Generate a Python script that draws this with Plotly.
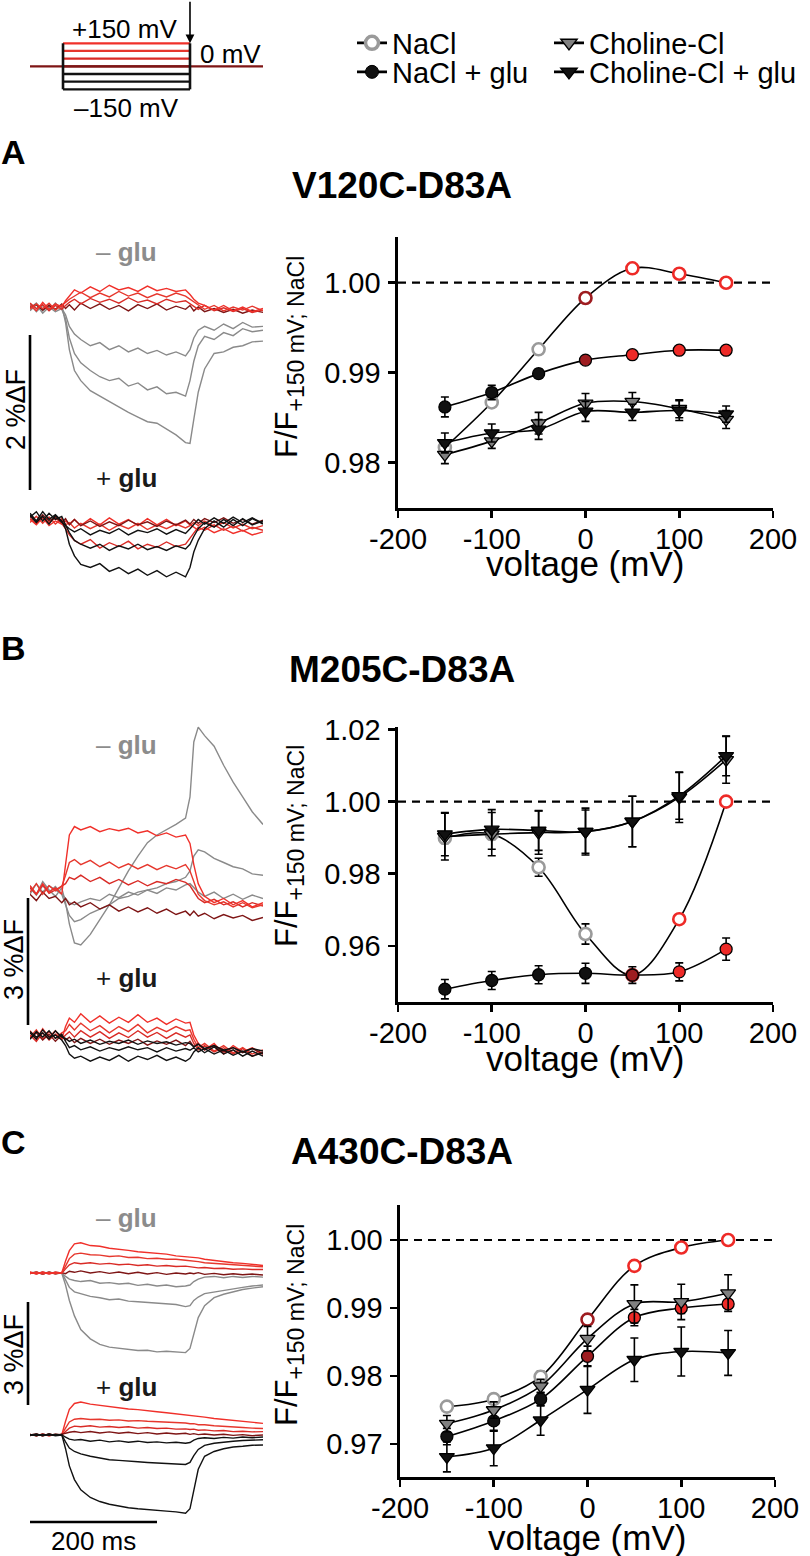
import plotly.graph_objects as go

W, H = 810, 1556


def fx(px):
    return px / W


def fy(py):
    return 1 - py / H


FONT = "Arial, 'Liberation Sans', sans-serif"

# ---------------- protocol ----------------
TIME_MS = [0, 10, 20, 30, 40, 50, 56, 62, 70, 80, 95, 110, 125, 140, 155, 170, 185, 200, 215, 230, 245,
           252, 258, 265, 275, 290, 305, 320, 335, 350, 367]
PULSE_MS = [52, 252]
STEP_MV = [150, 100, 50, 0, -50, -100, -150]

# ---------------- fluorescence traces (%dF) ----------------
A_NO_GLU_P150 = [0.02, -0.05, 0.06, -0.03, 0.04, 0.0, 0.08, 0.14, 0.22, 0.18, 0.26, 0.2, 0.28, 0.22, 0.25, 0.2, 0.27, 0.21, 0.24, 0.2, 0.22, 0.16, 0.1, 0.05, 0.02, -0.04, 0.02, -0.05, 0.0, -0.06, -0.02]
A_NO_GLU_P100 = [-0.03, 0.04, -0.02, 0.05, -0.04, 0.03, 0.06, 0.1, 0.14, 0.19, 0.12, 0.18, 0.13, 0.2, 0.14, 0.18, 0.12, 0.17, 0.13, 0.18, 0.14, 0.1, 0.06, 0.02, -0.03, 0.02, -0.05, 0.0, -0.04, 0.01, -0.05]
A_NO_GLU_P50 = [0.05, -0.02, 0.03, -0.05, 0.02, -0.03, 0.02, 0.06, 0.1, 0.04, 0.11, 0.06, 0.1, 0.05, 0.12, 0.06, 0.09, 0.04, 0.1, 0.06, 0.08, 0.04, 0.0, -0.03, 0.02, -0.05, -0.01, -0.06, -0.02, -0.07, -0.04]
A_NO_GLU_0 = [0.0, 0.03, -0.04, 0.02, -0.03, 0.04, -0.02, 0.03, -0.04, 0.05, -0.02, 0.04, -0.03, 0.02, -0.05, 0.03, -0.02, 0.04, -0.04, 0.01, -0.03, 0.02, -0.05, 0.0, -0.06, -0.02, -0.07, -0.03, -0.08, -0.04, -0.07]
A_NO_GLU_M50 = [-0.05, 0.03, -0.08, 0.0, -0.06, -0.02, -0.1, -0.25, -0.35, -0.42, -0.5, -0.46, -0.55, -0.5, -0.58, -0.53, -0.6, -0.56, -0.62, -0.58, -0.63, -0.55, -0.4, -0.3, -0.25, -0.3, -0.22, -0.28, -0.2, -0.26, -0.25]
A_NO_GLU_M100 = [0.04, -0.06, 0.02, -0.04, 0.05, -0.03, -0.15, -0.4, -0.6, -0.72, -0.82, -0.9, -0.95, -0.92, -1.02, -0.98, -1.07, -1.03, -1.12, -1.1, -1.15, -0.95, -0.7, -0.5, -0.38, -0.42, -0.33, -0.37, -0.28, -0.32, -0.3]
A_NO_GLU_M150 = [-0.02, 0.05, -0.05, 0.03, -0.03, 0.02, -0.2, -0.55, -0.82, -0.95, -1.08, -1.15, -1.22, -1.3, -1.36, -1.42, -1.48, -1.5, -1.58, -1.65, -1.75, -1.76, -1.45, -1.1, -0.8, -0.6, -0.58, -0.52, -0.5, -0.45, -0.44]

A_GLU_P150 = [0.02, -0.05, 0.04, -0.06, 0.0, -0.04, 0.0, -0.04, 0.02, -0.06, 0.03, -0.05, 0.04, -0.04, 0.02, -0.06, 0.03, -0.05, 0.02, -0.06, 0.0, -0.05, -0.08, -0.12, -0.08, -0.15, -0.1, -0.16, -0.12, -0.18, -0.14]
A_GLU_P100 = [-0.02, 0.06, -0.03, 0.05, -0.04, 0.03, -0.05, -0.02, -0.09, -0.03, -0.1, -0.04, -0.12, -0.05, -0.1, -0.03, -0.11, -0.05, -0.1, -0.04, -0.09, -0.06, -0.02, -0.06, 0.0, -0.07, -0.02, -0.09, -0.04, -0.1, -0.06]
A_GLU_P50 = [0.03, -0.04, 0.05, -0.02, 0.04, -0.03, -0.1, -0.18, -0.25, -0.3, -0.24, -0.35, -0.28, -0.33, -0.26, -0.36, -0.3, -0.34, -0.27, -0.33, -0.3, -0.22, -0.15, -0.08, -0.12, -0.05, -0.12, -0.06, -0.13, -0.08, -0.12]
A_GLU_0 = [0.06, -0.02, 0.08, 0.0, 0.05, -0.02, 0.03, -0.05, 0.02, -0.06, 0.0, -0.07, -0.01, -0.06, 0.01, -0.05, -0.01, -0.07, 0.0, -0.05, 0.01, -0.04, 0.02, -0.03, 0.03, -0.02, 0.04, -0.03, 0.02, -0.04, 0.01]
A_GLU_M50 = [0.08, -0.02, 0.06, -0.04, 0.07, -0.02, -0.06, -0.1, -0.14, -0.1, -0.18, -0.12, -0.16, -0.1, -0.18, -0.12, -0.15, -0.1, -0.17, -0.11, -0.16, -0.1, -0.05, 0.02, -0.04, 0.04, -0.03, 0.05, -0.02, 0.04, -0.03]
A_GLU_M100 = [0.05, 0.12, 0.0, 0.1, 0.02, 0.06, -0.05, -0.15, -0.25, -0.3, -0.35, -0.3, -0.38, -0.32, -0.36, -0.3, -0.37, -0.33, -0.38, -0.32, -0.36, -0.3, -0.2, -0.1, -0.02, -0.08, 0.02, -0.06, 0.03, -0.05, 0.0]
A_GLU_M150 = [0.1, 0.0, 0.12, 0.02, 0.08, 0.0, -0.1, -0.3, -0.45, -0.56, -0.6, -0.55, -0.65, -0.6, -0.68, -0.62, -0.7, -0.64, -0.72, -0.66, -0.72, -0.6, -0.4, -0.25, -0.1, 0.0, -0.08, 0.02, -0.06, 0.03, -0.04]

B_NO_GLU_P150 = [0.1, -0.1, 0.15, -0.05, 0.05, -0.1, 0.6, 1.3, 1.5, 1.42, 1.5, 1.38, 1.45, 1.4, 1.46, 1.35, 1.4, 1.28, 1.35, 1.25, 1.3, 1.1, 0.6, 0.15, -0.15, -0.3, -0.2, -0.35, -0.25, -0.4, -0.3]
B_NO_GLU_P100 = [-0.05, 0.15, -0.1, 0.1, -0.02, 0.08, 0.35, 0.65, 0.72, 0.6, 0.7, 0.55, 0.66, 0.52, 0.62, 0.5, 0.6, 0.48, 0.58, 0.5, 0.6, 0.45, 0.2, -0.1, -0.25, -0.35, -0.28, -0.4, -0.3, -0.42, -0.35]
B_NO_GLU_P50 = [0.05, -0.1, 0.12, -0.08, 0.0, 0.1, 0.15, 0.3, 0.25, 0.35, 0.2, 0.3, 0.15, 0.25, 0.12, 0.22, 0.1, 0.2, 0.15, 0.25, 0.18, 0.1, -0.05, -0.2, -0.3, -0.22, -0.35, -0.28, -0.4, -0.3, -0.38]
B_NO_GLU_0 = [-0.1, -0.25, -0.05, -0.2, -0.15, -0.3, -0.2, -0.35, -0.28, -0.4, -0.3, -0.45, -0.35, -0.5, -0.4, -0.52, -0.42, -0.55, -0.45, -0.58, -0.5, -0.6, -0.5, -0.62, -0.55, -0.68, -0.58, -0.66, -0.6, -0.72, -0.65]
B_NO_GLU_M50 = [0.05, -0.12, 0.1, -0.05, 0.08, -0.08, -0.2, -0.3, -0.35, -0.28, -0.2, -0.25, -0.1, -0.18, -0.05, -0.12, 0.0, -0.08, 0.05, 0.0, 0.12, 0.15, 0.05, -0.05, -0.15, -0.05, -0.2, -0.1, -0.22, -0.12, -0.2]
B_NO_GLU_M100 = [-0.1, 0.15, -0.05, 0.1, 0.0, -0.1, -0.35, -0.6, -0.75, -0.7, -0.55, -0.45, -0.35, -0.2, -0.15, -0.05, 0.0, 0.05, 0.15, 0.2, 0.3, 0.45, 0.8, 0.95, 0.9, 0.75, 0.65, 0.55, 0.5, 0.38, 0.35]
B_NO_GLU_M150 = [0.1, -0.1, 0.2, 0.0, -0.15, 0.05, -0.3, -0.8, -1.25, -1.3, -1.05, -0.7, -0.35, 0.05, 0.45, 0.8, 1.12, 1.3, 1.42, 1.55, 1.7, 2.2, 3.5, 3.85, 3.65, 3.4, 2.95, 2.55, 2.2, 1.85, 1.55]

B_GLU_P150 = [0.1, -0.1, 0.15, -0.05, 0.1, -0.1, 0.2, 0.4, 0.3, 0.5, 0.3, 0.45, 0.28, 0.42, 0.3, 0.48, 0.3, 0.4, 0.25, 0.38, 0.28, 0.3, 0.0, -0.2, -0.35, -0.2, -0.45, -0.25, -0.4, -0.3, -0.45]
B_GLU_P100 = [-0.05, 0.12, -0.1, 0.08, -0.08, 0.05, 0.1, 0.25, 0.12, 0.28, 0.1, 0.22, 0.05, 0.2, 0.08, 0.25, 0.05, 0.18, 0.08, 0.2, 0.1, 0.12, -0.1, -0.3, -0.2, -0.38, -0.25, -0.42, -0.3, -0.45, -0.35]
B_GLU_P50 = [0.0, -0.15, 0.05, -0.12, 0.02, -0.1, 0.0, 0.08, -0.05, 0.1, -0.05, 0.08, -0.08, 0.05, -0.06, 0.1, -0.05, 0.06, -0.08, 0.05, -0.05, 0.0, -0.2, -0.35, -0.25, -0.4, -0.3, -0.45, -0.32, -0.5, -0.4]
B_GLU_0 = [-0.08, 0.05, -0.12, 0.02, -0.15, 0.0, -0.12, -0.05, -0.18, -0.08, -0.2, -0.1, -0.22, -0.12, -0.2, -0.1, -0.24, -0.14, -0.22, -0.12, -0.25, -0.15, -0.28, -0.2, -0.35, -0.25, -0.4, -0.3, -0.42, -0.32, -0.45]
B_GLU_M50 = [0.08, -0.05, 0.05, -0.1, 0.1, -0.05, -0.08, -0.15, -0.1, -0.2, -0.12, -0.22, -0.15, -0.2, -0.12, -0.22, -0.14, -0.2, -0.16, -0.24, -0.18, -0.2, -0.28, -0.22, -0.32, -0.25, -0.36, -0.3, -0.4, -0.32, -0.38]
B_GLU_M100 = [-0.1, 0.08, -0.05, 0.1, -0.08, 0.02, -0.15, -0.3, -0.25, -0.35, -0.28, -0.38, -0.3, -0.36, -0.28, -0.35, -0.3, -0.4, -0.3, -0.38, -0.32, -0.36, -0.3, -0.4, -0.32, -0.45, -0.35, -0.48, -0.38, -0.5, -0.42]
B_GLU_M150 = [0.05, -0.1, 0.12, -0.05, 0.0, -0.12, -0.25, -0.45, -0.55, -0.5, -0.62, -0.52, -0.6, -0.48, -0.62, -0.5, -0.58, -0.48, -0.6, -0.52, -0.62, -0.55, -0.4, -0.3, -0.42, -0.28, -0.45, -0.35, -0.5, -0.38, -0.5]

C_NO_GLU_P150 = [0.02, -0.03, 0.03, -0.02, 0.02, 0.0, 0.35, 0.65, 0.85, 0.88, 0.8, 0.78, 0.72, 0.7, 0.66, 0.62, 0.6, 0.56, 0.55, 0.5, 0.48, 0.47, 0.45, 0.44, 0.4, 0.36, 0.34, 0.3, 0.28, 0.25, 0.22]
C_NO_GLU_P100 = [-0.02, 0.03, -0.03, 0.02, -0.02, 0.01, 0.2, 0.42, 0.55, 0.58, 0.53, 0.52, 0.48, 0.5, 0.45, 0.46, 0.42, 0.43, 0.4, 0.4, 0.37, 0.36, 0.35, 0.33, 0.3, 0.28, 0.27, 0.24, 0.22, 0.2, 0.18]
C_NO_GLU_P50 = [0.03, -0.02, 0.02, -0.03, 0.02, -0.01, 0.12, 0.24, 0.3, 0.27, 0.3, 0.26, 0.28, 0.24, 0.26, 0.22, 0.24, 0.2, 0.22, 0.19, 0.2, 0.18, 0.17, 0.15, 0.16, 0.13, 0.14, 0.11, 0.12, 0.1, 0.1]
C_NO_GLU_0 = [-0.02, 0.02, -0.03, 0.02, -0.02, 0.01, -0.02, 0.05, 0.02, 0.06, 0.0, 0.04, -0.01, 0.03, -0.02, 0.02, -0.03, 0.01, -0.04, 0.0, -0.03, 0.0, -0.02, 0.01, -0.04, -0.01, -0.05, -0.02, -0.05, -0.03, -0.06]
C_NO_GLU_M50 = [0.02, -0.02, 0.03, -0.01, 0.02, 0.0, -0.1, -0.18, -0.22, -0.25, -0.22, -0.3, -0.28, -0.32, -0.3, -0.36, -0.33, -0.38, -0.35, -0.4, -0.38, -0.35, -0.25, -0.18, -0.12, -0.1, -0.14, -0.1, -0.13, -0.1, -0.12]
C_NO_GLU_M100 = [-0.02, 0.02, -0.02, 0.03, -0.01, 0.01, -0.2, -0.42, -0.55, -0.6, -0.68, -0.72, -0.78, -0.76, -0.82, -0.84, -0.86, -0.88, -0.9, -0.92, -0.98, -0.95, -0.8, -0.7, -0.6, -0.55, -0.5, -0.45, -0.42, -0.38, -0.35]
C_NO_GLU_M150 = [0.0, 0.03, -0.03, 0.02, -0.02, 0.0, -0.35, -0.8, -1.25, -1.65, -1.92, -2.08, -2.16, -2.2, -2.22, -2.26, -2.25, -2.3, -2.28, -2.3, -2.32, -2.2, -1.8, -1.3, -0.95, -0.72, -0.62, -0.55, -0.48, -0.44, -0.4]

C_GLU_P150 = [0.02, -0.02, 0.03, -0.02, 0.02, 0.0, 0.4, 0.75, 0.92, 0.96, 0.9, 0.86, 0.82, 0.8, 0.76, 0.74, 0.7, 0.68, 0.65, 0.62, 0.6, 0.58, 0.56, 0.54, 0.52, 0.48, 0.45, 0.42, 0.4, 0.37, 0.34]
C_GLU_P100 = [-0.02, 0.02, -0.02, 0.03, -0.01, 0.01, 0.2, 0.38, 0.46, 0.48, 0.45, 0.46, 0.43, 0.44, 0.41, 0.42, 0.4, 0.39, 0.38, 0.36, 0.35, 0.33, 0.33, 0.3, 0.3, 0.27, 0.26, 0.23, 0.22, 0.2, 0.19]
C_GLU_P50 = [0.02, -0.02, 0.02, -0.02, 0.01, -0.01, 0.1, 0.2, 0.26, 0.24, 0.27, 0.23, 0.25, 0.22, 0.24, 0.2, 0.22, 0.19, 0.2, 0.17, 0.18, 0.16, 0.17, 0.14, 0.15, 0.12, 0.13, 0.1, 0.11, 0.09, 0.1]
C_GLU_0 = [0.0, 0.03, -0.02, 0.02, -0.01, 0.02, 0.05, 0.08, 0.1, 0.07, 0.1, 0.06, 0.09, 0.05, 0.08, 0.04, 0.07, 0.03, 0.06, 0.03, 0.05, 0.02, 0.04, 0.01, 0.03, 0.0, 0.02, -0.01, 0.01, -0.02, 0.0]
C_GLU_M50 = [0.02, -0.02, 0.02, -0.01, 0.02, 0.0, -0.06, -0.12, -0.15, -0.13, -0.18, -0.15, -0.2, -0.17, -0.21, -0.18, -0.22, -0.2, -0.23, -0.21, -0.24, -0.22, -0.15, -0.1, -0.08, -0.1, -0.07, -0.09, -0.06, -0.08, -0.06]
C_GLU_M100 = [-0.02, 0.02, -0.01, 0.02, -0.02, 0.0, -0.2, -0.38, -0.48, -0.55, -0.62, -0.68, -0.72, -0.74, -0.77, -0.78, -0.8, -0.82, -0.82, -0.84, -0.86, -0.8, -0.6, -0.42, -0.3, -0.24, -0.2, -0.18, -0.16, -0.15, -0.14]
C_GLU_M150 = [0.0, 0.02, -0.02, 0.03, -0.01, 0.01, -0.4, -0.9, -1.3, -1.6, -1.82, -1.94, -2.02, -2.08, -2.12, -2.15, -2.18, -2.2, -2.22, -2.24, -2.28, -2.15, -1.6, -1.0, -0.62, -0.48, -0.4, -0.35, -0.33, -0.3, -0.29]

# ---------------- F/F vs voltage ----------------
VOLTAGE = [-150, -100, -50, 0, 50, 100, 150]
X_TICKS = [-200, -100, 0, 100, 200]
X_TICK_TEXT = ["-200", "-100", "0", "100", "200"]

A_NACL = [0.9817, 0.9867, 0.9926, 0.9983, 1.0016, 1.0010, 1.0000]
A_NACL_ERR = [0, 0, 0, 0, 0, 0, 0]
A_NACL_GLU = [0.9862, 0.9878, 0.9899, 0.9914, 0.9920, 0.9925, 0.9925]
A_NACL_GLU_ERR = [0.0011, 0.0008, 0.0005, 0.0004, 0.0004, 0.0003, 0.0003]
A_CHOL = [0.9809, 0.9824, 0.9844, 0.9866, 0.9868, 0.9860, 0.9848]
A_CHOL_ERR = [0.0010, 0.0008, 0.0012, 0.0011, 0.0010, 0.0010, 0.0010]
A_CHOL_GLU = [0.9822, 0.9833, 0.9837, 0.9857, 0.9856, 0.9858, 0.9854]
A_CHOL_GLU_ERR = [0.0011, 0.0010, 0.0011, 0.0011, 0.0009, 0.0011, 0.0009]
A_KIND_NACL = ["neg", "neg", "neg", "zero", "pos", "pos", "pos"]
A_KIND_GLU = ["neg", "neg", "neg", "zero", "pos", "pos", "pos"]
A_Y_TICKS = [0.98, 0.99, 1.00]
A_Y_TICK_TEXT = ["0.98", "0.99", "1.00"]

B_NACL = [0.9899, 0.9910, 0.9818, 0.9633, 0.9519, 0.9674, 1.0000]
B_NACL_ERR = [0.0015, 0.0015, 0.0025, 0.0028, 0, 0, 0]
B_NACL_GLU = [0.9480, 0.9504, 0.9520, 0.9524, 0.9519, 0.9528, 0.9591]
B_NACL_GLU_ERR = [0.0027, 0.0025, 0.0025, 0.0028, 0.0023, 0.0025, 0.0031]
B_CHOL = [0.9903, 0.9910, 0.9914, 0.9917, 0.9945, 1.0012, 1.0116]
B_CHOL_ERR = [0.0065, 0.0060, 0.0060, 0.0060, 0.0070, 0.0070, 0.0065]
B_CHOL_GLU = [0.9910, 0.9923, 0.9920, 0.9917, 0.9945, 1.0016, 1.0127]
B_CHOL_GLU_ERR = [0.0060, 0.0055, 0.0055, 0.0065, 0.0070, 0.0065, 0.0055]
B_KIND_NACL = ["neg", "neg", "neg", "neg", "zero", "pos", "pos"]
B_KIND_GLU = ["neg", "neg", "neg", "neg", "zero", "pos", "pos"]
B_Y_TICKS = [0.96, 0.98, 1.00, 1.02]
B_Y_TICK_TEXT = ["0.96", "0.98", "1.00", "1.02"]

C_NACL = [0.9755, 0.9766, 0.9799, 0.9883, 0.9962, 0.9989, 1.0000]
C_NACL_ERR = [0, 0.0007, 0.0008, 0.0005, 0, 0, 0]
C_NACL_GLU = [0.9711, 0.9734, 0.9766, 0.9829, 0.9886, 0.9900, 0.9906]
C_NACL_GLU_ERR = [0.0012, 0.0015, 0.0010, 0.0015, 0.0012, 0.0008, 0.0006]
C_CHOL = [0.9730, 0.9750, 0.9785, 0.9855, 0.9906, 0.9909, 0.9922]
C_CHOL_ERR = [0.0012, 0.0012, 0.0010, 0.0018, 0.0028, 0.0026, 0.0027]
C_CHOL_GLU = [0.9681, 0.9694, 0.9735, 0.9780, 0.9824, 0.9836, 0.9834]
C_CHOL_GLU_ERR = [0.0022, 0.0026, 0.0022, 0.0035, 0.0032, 0.0036, 0.0033]
C_KIND_NACL = ["neg", "neg", "neg", "zero", "pos", "pos", "pos"]
C_KIND_GLU = ["neg", "neg", "neg", "zero", "pos", "pos", "pos"]
C_Y_TICKS = [0.97, 0.98, 0.99, 1.00]
C_Y_TICK_TEXT = ["0.97", "0.98", "0.99", "1.00"]

LEGEND_NAMES = ["NaCl", "Choline-Cl", "NaCl + glu", "Choline-Cl + glu"]

# ---------------- styles ----------------
RED150, RED100, RED50 = "#f0302a", "#e6372d", "#d92b26"
DARKRED = "#7e1515"
GRAY = "#8a8a8a"
BLACK = "#111111"
M_RED, M_DARKRED, M_GRAY = "#ee2a27", "#9e1c20", "#9a9a9a"

fig = go.Figure()
NOHOVER = dict(hoverinfo="skip", showlegend=False)

# protocol
step_cols = [RED150, RED100, RED50, DARKRED, BLACK, BLACK, BLACK]
for v, c in zip(STEP_MV, step_cols):
    fig.add_trace(go.Scatter(x=PULSE_MS, y=[v, v], mode="lines", line=dict(color=c, width=2.3),
                             xaxis="x", yaxis="y", **NOHOVER))
fig.add_trace(go.Scatter(x=[TIME_MS[0], TIME_MS[-1]], y=[0, 0], mode="lines",
                         line=dict(color=DARKRED, width=2.3), xaxis="x", yaxis="y", **NOHOVER))
for t in PULSE_MS:
    fig.add_trace(go.Scatter(x=[t, t], y=[STEP_MV[-1], STEP_MV[0]], mode="lines",
                             line=dict(color=BLACK, width=2.6), xaxis="x", yaxis="y", **NOHOVER))

# traces
panels = [
    ("y2", "y3",
     [A_NO_GLU_M150, A_NO_GLU_M100, A_NO_GLU_M50, A_NO_GLU_0, A_NO_GLU_P50, A_NO_GLU_P100, A_NO_GLU_P150],
     [A_GLU_P50, A_GLU_P100, A_GLU_P150, A_GLU_0, A_GLU_M50, A_GLU_M100, A_GLU_M150]),
    ("y4", "y5",
     [B_NO_GLU_M150, B_NO_GLU_M100, B_NO_GLU_M50, B_NO_GLU_0, B_NO_GLU_P50, B_NO_GLU_P100, B_NO_GLU_P150],
     [B_GLU_P50, B_GLU_P100, B_GLU_P150, B_GLU_0, B_GLU_M50, B_GLU_M100, B_GLU_M150]),
    ("y6", "y7",
     [C_NO_GLU_M150, C_NO_GLU_M100, C_NO_GLU_M50, C_NO_GLU_0, C_NO_GLU_P50, C_NO_GLU_P100, C_NO_GLU_P150],
     [C_GLU_P50, C_GLU_P100, C_GLU_P150, C_GLU_0, C_GLU_M50, C_GLU_M100, C_GLU_M150]),
]
minus_cols = [GRAY, GRAY, GRAY, DARKRED, RED50, RED100, RED150]
plus_cols = [RED50, RED100, RED150, DARKRED, BLACK, BLACK, BLACK]
for ym, yp, minus_set, plus_set in panels:
    for vals, c in zip(minus_set, minus_cols):
        fig.add_trace(go.Scatter(x=TIME_MS, y=vals, mode="lines", line=dict(color=c, width=1.4),
                                 xaxis="x", yaxis=ym, **NOHOVER))
    for vals, c in zip(plus_set, plus_cols):
        fig.add_trace(go.Scatter(x=TIME_MS, y=vals, mode="lines", line=dict(color=c, width=1.4),
                                 xaxis="x", yaxis=yp, **NOHOVER))

# IV plots
KIND_EDGE = {"neg": M_GRAY, "zero": M_DARKRED, "pos": M_RED}
KIND_FILL = {"neg": BLACK, "zero": M_DARKRED, "pos": M_RED}
iv_sets = [
    ("x2", "y8", A_NACL, A_NACL_ERR, A_NACL_GLU, A_NACL_GLU_ERR, A_CHOL, A_CHOL_ERR, A_CHOL_GLU, A_CHOL_GLU_ERR, A_KIND_NACL, A_KIND_GLU),
    ("x3", "y9", B_NACL, B_NACL_ERR, B_NACL_GLU, B_NACL_GLU_ERR, B_CHOL, B_CHOL_ERR, B_CHOL_GLU, B_CHOL_GLU_ERR, B_KIND_NACL, B_KIND_GLU),
    ("x4", "y10", C_NACL, C_NACL_ERR, C_NACL_GLU, C_NACL_GLU_ERR, C_CHOL, C_CHOL_ERR, C_CHOL_GLU, C_CHOL_GLU_ERR, C_KIND_NACL, C_KIND_GLU),
]
LINE = dict(color="black", width=1.6, shape="spline", smoothing=1.0)


def err(arr):
    return dict(type="data", array=arr, color="black", thickness=1.6, width=4, visible=True)


for xa, ya, nacl, nacl_e, glu, glu_e, chol, chol_e, cglu, cglu_e, kn, kg in iv_sets:
    fig.add_trace(go.Scatter(x=VOLTAGE, y=nacl, error_y=err(nacl_e), mode="lines+markers", line=LINE,
                             marker=dict(symbol="circle", size=12, color="white",
                                         line=dict(color=[KIND_EDGE[k] for k in kn], width=2.6)),
                             xaxis=xa, yaxis=ya, **NOHOVER))
    fig.add_trace(go.Scatter(x=VOLTAGE, y=glu, error_y=err(glu_e), mode="lines+markers", line=LINE,
                             marker=dict(symbol="circle", size=12, color=[KIND_FILL[k] for k in kg],
                                         line=dict(color="black", width=1.3)),
                             xaxis=xa, yaxis=ya, **NOHOVER))
    fig.add_trace(go.Scatter(x=VOLTAGE, y=chol, error_y=err(chol_e), mode="lines+markers", line=LINE,
                             marker=dict(symbol="triangle-down", size=13, color="#808080",
                                         line=dict(color="black", width=1.3)),
                             xaxis=xa, yaxis=ya, **NOHOVER))
    fig.add_trace(go.Scatter(x=VOLTAGE, y=cglu, error_y=err(cglu_e), mode="lines+markers", line=LINE,
                             marker=dict(symbol="triangle-down", size=13, color=BLACK,
                                         line=dict(color="black", width=1.3)),
                             xaxis=xa, yaxis=ya, **NOHOVER))

# legend entries (one legend box per entry, arranged as 2x2)
leg_line = dict(color="black", width=2.6)
leg_markers = [
    dict(symbol="circle", size=13, color="white", line=dict(color=M_GRAY, width=3.5)),
    dict(symbol="triangle-down", size=14, color="#808080", line=dict(color="black", width=1.5)),
    dict(symbol="circle", size=13, color=BLACK, line=dict(color="black", width=1)),
    dict(symbol="triangle-down", size=14, color=BLACK, line=dict(color="black", width=1.5)),
]
leg_ids = ["legend", "legend2", "legend3", "legend4"]
for name, mk, lid in zip(LEGEND_NAMES, leg_markers, leg_ids):
    fig.add_trace(go.Scatter(x=[None], y=[None], mode="lines+markers", name=name, legend=lid,
                             line=leg_line, marker=mk, xaxis="x2", yaxis="y8", hoverinfo="skip"))

# ---------------- layout ----------------
hidden = dict(visible=False, showgrid=False, zeroline=False, fixedrange=True)
axstyle = dict(showline=True, linecolor="black", linewidth=2.6, ticks="outside", ticklen=7, tickwidth=2.6,
               tickcolor="black", showgrid=False, zeroline=False, mirror=False, automargin=False,
               tickfont=dict(size=29, family=FONT, color="black"))

layout_axes = dict(
    xaxis=dict(hidden, domain=[fx(30), fx(263)], range=[0, 367], anchor="y"),
    yaxis=dict(hidden, domain=[fy(97), fy(35)], range=[-200, 204], anchor="x"),
    yaxis2=dict(hidden, domain=[fy(460), fy(270)], range=[-1.974, 0.477], anchor="x"),
    yaxis3=dict(hidden, domain=[fy(590), fy(495)], range=[-0.89, 0.335], anchor="x"),
    yaxis4=dict(hidden, domain=[fy(960), fy(700)], range=[-1.655, 4.492], anchor="x"),
    yaxis5=dict(hidden, domain=[fy(1085), fy(1000)], range=[-1.182, 0.827], anchor="x"),
    yaxis6=dict(hidden, domain=[fy(1360), fy(1225)], range=[-2.536, 1.399], anchor="x"),
    yaxis7=dict(hidden, domain=[fy(1525), fy(1385)], range=[-2.624, 1.458], anchor="x"),
    xaxis2=dict(axstyle, domain=[fx(398), fx(773)], range=[-200, 200], anchor="y8",
                tickvals=X_TICKS, ticktext=X_TICK_TEXT, ticklabelstandoff=-3),
    yaxis8=dict(axstyle, domain=[fy(508), fy(237)], range=[0.97497, 1.00508], anchor="x2",
                tickvals=A_Y_TICKS, ticktext=A_Y_TICK_TEXT, ticklabelstandoff=2),
    xaxis3=dict(axstyle, domain=[fx(398), fx(773)], range=[-200, 200], anchor="y9",
                tickvals=X_TICKS, ticktext=X_TICK_TEXT, ticklabelstandoff=-3),
    yaxis9=dict(axstyle, domain=[fy(1002), fy(727)], range=[0.94444, 1.0207], anchor="x3",
                tickvals=B_Y_TICKS, ticktext=B_Y_TICK_TEXT, ticklabelstandoff=2),
    xaxis4=dict(axstyle, domain=[fx(400), fx(775)], range=[-200, 200], anchor="y10",
                tickvals=X_TICKS, ticktext=X_TICK_TEXT, ticklabelstandoff=-3),
    yaxis10=dict(axstyle, domain=[fy(1477), fy(1205)], range=[0.96515, 1.00515], anchor="x4",
                 tickvals=C_Y_TICKS, ticktext=C_Y_TICK_TEXT, ticklabelstandoff=2),
)

shapes = []
for xa, ya in [("x2", "y8"), ("x3", "y9"), ("x4", "y10")]:
    shapes.append(dict(type="line", xref=xa, yref=ya, x0=-200, x1=200, y0=1.0, y1=1.0,
                       line=dict(color="black", width=2.2, dash="8px,6px"), layer="below"))
# scale bars
bar = dict(color="black", width=2.6)
for x0, y0, x1, y1 in [(30, 335, 30, 490), (28, 898, 28, 1025), (28, 1302, 28, 1405), (30, 1522, 157, 1522)]:
    shapes.append(dict(type="line", xref="paper", yref="paper", x0=fx(x0), x1=fx(x1), y0=fy(y0), y1=fy(y1),
                       line=bar))

ann = []


def txt(x, y, s, size, color="black", angle=0, xanchor="center", bold=False):
    if bold:
        s = "<b>" + s + "</b>"
    ann.append(dict(x=fx(x), y=fy(y), xref="paper", yref="paper", text=s, showarrow=False,
                    font=dict(size=size, family=FONT, color=color), textangle=angle,
                    xanchor=xanchor, yanchor="middle"))


# protocol labels
txt(124, 29, "+150 mV", 26)
txt(198, 54, "0 mV", 26, xanchor="left")
txt(126, 108, "\u2013150 mV", 26)
ann.append(dict(x=PULSE_MS[1], y=STEP_MV[0], xref="x", yref="y", ax=0, ay=-43, showarrow=True,
                arrowhead=2, arrowsize=1.1, arrowwidth=1.6, arrowcolor="black", text=""))

# panel letters & titles
for letter, y in [("A", 152), ("B", 648), ("C", 1142)]:
    txt(14, y, letter, 34, bold=True)
for title, y in [("V120C-D83A", 185), ("M205C-D83A", 669), ("A430C-D83A", 1151)]:
    txt(402, y, title, 37, bold=True)

# glu labels
for y in [252, 745, 1218]:
    txt(126, y, "\u2013 <b>glu</b>", 26, color="#8c8c8c")
for y in [478, 978, 1387]:
    txt(126, y, "+ <b>glu</b>", 26, color="#1a1a1a")

# scale bar labels
txt(16, 410, "2 %\u0394F", 27, angle=-90)
txt(14, 960, "3 %\u0394F", 27, angle=-90)
txt(14, 1355, "3 %\u0394F", 27, angle=-90)
txt(93, 1541, "200 ms", 26)

# axis titles
YT = "F/F<sub><span style='font-size:23px'>+150 mV; NaCl</span></sub>"
for y in [357, 846, 1325]:
    txt(289, y, YT, 31, angle=-90)
for x, y in [(585, 564), (585, 1058), (587, 1537)]:
    txt(x, y, "voltage (mV)", 35)

legend_common = dict(orientation="h", xanchor="left", yanchor="middle", bgcolor="rgba(0,0,0,0)",
                     itemsizing="trace", font=dict(size=29, family=FONT, color="black"),
                     tracegroupgap=0, itemclick=False, itemdoubleclick=False)

fig.update_layout(
    width=W, height=H, margin=dict(l=0, r=0, t=0, b=0, pad=0, autoexpand=False),
    paper_bgcolor="white", plot_bgcolor="rgba(0,0,0,0)",
    font=dict(family=FONT, color="black"),
    showlegend=True,
    legend=dict(legend_common, x=fx(352), y=fy(43)),
    legend2=dict(legend_common, x=fx(549), y=fy(43)),
    legend3=dict(legend_common, x=fx(352), y=fy(72)),
    legend4=dict(legend_common, x=fx(549), y=fy(72)),
    shapes=shapes, annotations=ann,
    **layout_axes,
)

fig.write_html("out.html", config={"displayModeBar": False, "staticPlot": True},
               post_script="document.body.style.margin='0px';document.body.style.padding='0px';")
